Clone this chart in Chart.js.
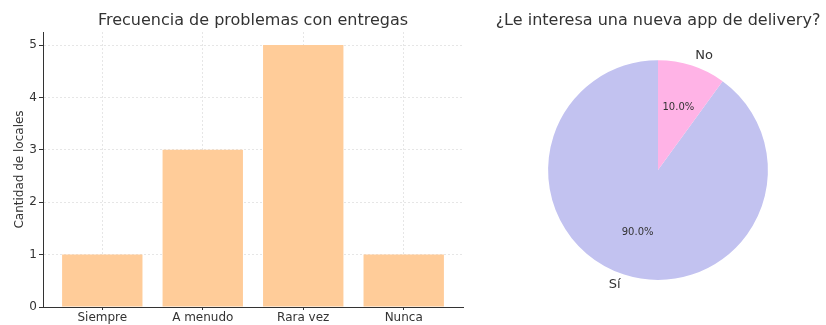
<!DOCTYPE html>
<html>
<head>
<meta charset="utf-8">
<script src="https://cdn.jsdelivr.net/npm/chart.js@4"></script>
<style>
  html, body { margin: 0; padding: 0; background: #fff; }
  body { width: 826px; height: 325px; position: relative; overflow: hidden; }
  #barWrap { position: absolute; left: 0; top: 0; width: 480px; height: 325px; }
  #pieWrap { position: absolute; left: 490px; top: 0; width: 336px; height: 325px; }
</style>
</head>
<body>
<div id="barWrap"><canvas id="bar" width="480" height="325"></canvas></div>
<div id="pieWrap"><canvas id="pie" width="336" height="325"></canvas></div>
<script>
const categories = ['Siempre', 'A menudo', 'Rara vez', 'Nunca'];
const counts = [1, 3, 5, 1];
const yTicks = [0, 1, 2, 3, 4, 5];
const pieLabels = ['Sí', 'No'];
const pieValues = [9, 1];

const barTitle = 'Frecuencia de problemas con entregas';
const yAxisTitle = 'Cantidad de locales';
const pieTitle = '¿Le interesa una nueva app de delivery?';

const FONT = "'DejaVu Sans', sans-serif";
const TEXT = '#333333';

Chart.defaults.font.family = FONT;
Chart.defaults.color = TEXT;

const axesTitlePlugin = {
  id: 'axesTitle',
  afterDraw(chart) {
    const a = chart.chartArea;
    const ctx = chart.ctx;
    ctx.save();
    ctx.fillStyle = TEXT;
    ctx.font = "16px " + FONT;
    ctx.textAlign = 'center';
    ctx.textBaseline = 'middle';
    ctx.fillText(barTitle, (a.left + a.right) / 2, 21);
    ctx.restore();
  }
};

new Chart(document.getElementById('bar'), {
  type: 'bar',
  data: {
    datasets: [{
      data: counts.map((v, i) => ({ x: i, y: v })),
      backgroundColor: '#ffcc99',
      borderWidth: 0,
      barPercentage: 0.8,
      categoryPercentage: 1.0
    }]
  },
  options: {
    responsive: false,
    animation: false,
    devicePixelRatio: 1,
    layout: { padding: { left: 0, right: 17, top: 32, bottom: 0 } },
    plugins: {
      legend: { display: false },
      tooltip: { enabled: false },
      title: { display: false }
    },
    scales: {
      x: {
        type: 'linear',
        offset: false,
        min: -0.59,
        max: 3.59,
        afterFit: s => { s.height = 18; },
        afterBuildTicks: s => { s.ticks = categories.map((c, i) => ({ value: i })); },
        ticks: {
          callback: v => categories[v],
          color: TEXT,
          font: { size: 12 },
          padding: 1,
          maxRotation: 0,
          autoSkip: false
        },
        grid: { offset: false, color: '#e6e6e6', tickLength: 3, tickColor: TEXT },
        border: { display: true, color: TEXT, width: 1, dash: [2, 2] }
      },
      y: {
        min: 0,
        max: 5.25,
        afterFit: s => { s.width = 43; },
        afterBuildTicks: s => { s.ticks = yTicks.map(v => ({ value: v })); },
        ticks: { color: TEXT, font: { size: 12 }, padding: 2 },
        grid: { color: '#e6e6e6', tickLength: 4, tickColor: TEXT },
        border: { display: true, color: TEXT, width: 1, dash: [2, 2] },
        title: {
          display: true,
          text: yAxisTitle,
          color: TEXT,
          font: { size: 12 },
          padding: { top: 13, bottom: 0 }
        }
      }
    }
  },
  plugins: [axesTitlePlugin]
});

const pieLabelPlugin = {
  id: 'pieLabels',
  afterDatasetsDraw(chart) {
    const ctx = chart.ctx;
    const meta = chart.getDatasetMeta(0);
    const total = pieValues.reduce((a, b) => a + b, 0);
    ctx.save();
    meta.data.forEach((arc, i) => {
      const p = arc.getProps(['x', 'y', 'startAngle', 'endAngle', 'outerRadius'], true);
      const mid = (p.startAngle + p.endAngle) / 2;
      const r = p.outerRadius;
      const cx = Math.cos(mid), cy = Math.sin(mid);
      ctx.fillStyle = TEXT;
      ctx.font = "13px " + FONT;
      ctx.textBaseline = 'middle';
      ctx.textAlign = cx >= 0 ? 'left' : 'right';
      ctx.fillText(pieLabels[i], p.x + cx * r * 1.1, p.y + cy * r * 1.1);
      ctx.font = "10px " + FONT;
      ctx.textAlign = 'center';
      ctx.fillText((pieValues[i] / total * 100).toFixed(1) + '%', p.x + cx * r * 0.6, p.y + cy * r * 0.6);
    });
    ctx.restore();
  }
};

new Chart(document.getElementById('pie'), {
  type: 'pie',
  data: {
    labels: pieLabels,
    datasets: [{
      data: pieValues,
      backgroundColor: ['#c2c2f0', '#ffb3e6'],
      borderWidth: 0
    }]
  },
  options: {
    responsive: false,
    animation: false,
    devicePixelRatio: 1,
    rotation: 36,
    layout: { padding: { left: 0, right: 0, top: 0, bottom: 45 } },
    plugins: {
      legend: { display: false },
      tooltip: { enabled: false },
      title: {
        display: true,
        text: pieTitle,
        color: TEXT,
        font: { size: 16, weight: 'normal', family: FONT },
        padding: { top: 11, bottom: 30 }
      }
    }
  },
  plugins: [pieLabelPlugin]
});
</script>
</body>
</html>
